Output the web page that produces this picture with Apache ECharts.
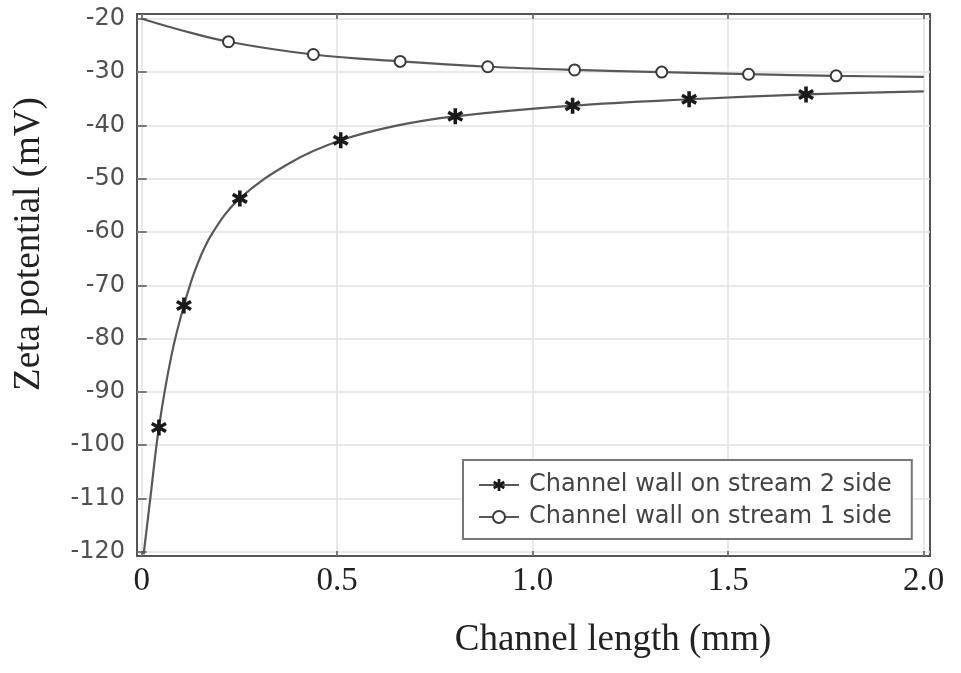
<!DOCTYPE html>
<html>
<head>
<meta charset="utf-8">
<script src="https://cdn.jsdelivr.net/npm/echarts@6/dist/echarts.min.js"></script>
<style>html,body{margin:0;padding:0;background:#fff;}#chart{width:961px;height:673px;}</style>
</head>
<body>
<div id="chart"></div>
<script>
// ---- data ----
const xTickValues = [0, 0.5, 1.0, 1.5, 2.0];
const yTickValues = [-120, -110, -100, -90, -80, -70, -60, -50, -40, -30, -20];

const seriesNames = ['Channel wall on stream 2 side', 'Channel wall on stream 1 side'];

// stream 2 side curve (points along the drawn curve); marker flag = 1 where a star is drawn
const stream2X = [0.005, 0.022, 0.044, 0.076, 0.108, 0.140, 0.180, 0.251, 0.380, 0.509, 0.655, 0.802, 1.102, 1.400, 1.699, 2.0];
const stream2Y = [-120.5, -110, -96.7, -83.2, -73.8, -66.5, -60.3, -53.7, -47.0, -42.8, -40.0, -38.3, -36.3, -35.1, -34.2, -33.6];
const stream2Marker = [0, 0, 1, 0, 1, 0, 0, 1, 0, 1, 0, 1, 1, 1, 1, 0];

// stream 1 side curve; marker flag = 1 where a circle is drawn
const stream1X = [0, 0.099, 0.222, 0.439, 0.661, 0.885, 1.107, 1.330, 1.552, 1.776, 2.0];
const stream1Y = [-20, -22.1, -24.3, -26.7, -28.0, -29.0, -29.6, -30.0, -30.4, -30.7, -30.9];
const stream1Marker = [0, 0, 1, 1, 1, 1, 1, 1, 1, 1, 0];

// ---- styling / layout ----
const STAR = 'path://M0.78 0L1.22 0L1.22 2L0.78 2Z M1.756 0.309L1.976 0.691L0.244 1.691L0.024 1.309Z M1.976 1.309L1.756 1.691L0.024 0.691L0.244 0.309Z';

function buildData(xs, ys, flags) {
  return xs.map((x, i) => flags[i] ? { value: [x, ys[i]] } : { value: [x, ys[i]], symbol: 'none' });
}

const chart = echarts.init(document.getElementById('chart'), null, { renderer: 'canvas' });

const xRange = { min: -0.012, max: 2.016 };
const yRange = { min: -120.8, max: -19.1 };

const frameColor = '#555';
const gridColor = '#e2e2e2';

const option = {
  backgroundColor: '#ffffff',
  animation: false,
  grid: {
    left: 137, top: 14, right: 31, bottom: 117,
    show: true, borderColor: frameColor, borderWidth: 2,
    outerBoundsMode: 'none'
  },
  xAxis: [{
    type: 'value', min: xRange.min, max: xRange.max, position: 'bottom',
    axisLine: { show: false },
    axisTick: { show: true, inside: true, length: 5, customValues: xTickValues, lineStyle: { color: frameColor, width: 1.5 } },
    axisLabel: {
      customValues: xTickValues, margin: 9,
      formatter: v => (v === 0 ? '0' : v.toFixed(1)),
      fontFamily: 'Liberation Serif', fontSize: 33, color: '#222'
    },
    splitLine: { show: true, lineStyle: { color: gridColor, width: 1.5 } }
  }, {
    type: 'value', min: xRange.min, max: xRange.max, position: 'top',
    axisLine: { show: false },
    axisTick: { show: true, inside: true, length: 5, customValues: xTickValues, lineStyle: { color: frameColor, width: 1.5 } },
    axisLabel: { show: false },
    splitLine: { show: false }
  }],
  yAxis: [{
    type: 'value', min: yRange.min, max: yRange.max, position: 'left',
    axisLine: { show: false },
    axisTick: { show: true, inside: true, length: 5, customValues: yTickValues, lineStyle: { color: frameColor, width: 1.5 } },
    axisLabel: {
      customValues: yTickValues, margin: 12,
      fontFamily: 'DejaVu Sans', fontSize: 24, color: '#505050'
    },
    splitLine: { show: true, lineStyle: { color: gridColor, width: 1.5 } }
  }, {
    type: 'value', min: yRange.min, max: yRange.max, position: 'right',
    axisLine: { show: false },
    axisTick: { show: true, inside: true, length: 5, customValues: yTickValues, lineStyle: { color: frameColor, width: 1.5 } },
    axisLabel: { show: false },
    splitLine: { show: false }
  }],
  legend: {
    orient: 'vertical', left: 463, top: 460,
    padding: [13, 20, 10, 15],
    itemWidth: 40, itemHeight: 15, itemGap: 8,
    backgroundColor: '#fff', borderColor: '#777', borderWidth: 2, borderRadius: 0,
    selectedMode: false,
    textStyle: { fontFamily: 'DejaVu Sans', fontSize: 24, color: '#444', padding: [0, 0, 0, 5] },
    data: seriesNames
  },
  series: [{
    name: seriesNames[0], type: 'line',
    xAxisIndex: 0, yAxisIndex: 0,
    data: buildData(stream2X, stream2Y, stream2Marker),
    smooth: 0.38,
    showSymbol: true, showAllSymbol: true,
    symbol: STAR, symbolSize: 16,
    lineStyle: { color: '#585858', width: 2.2 },
    itemStyle: { color: '#1a1a1a' },
    z: 3
  }, {
    name: seriesNames[1], type: 'line',
    xAxisIndex: 0, yAxisIndex: 0,
    data: buildData(stream1X, stream1Y, stream1Marker),
    smooth: 0.38,
    showSymbol: true, showAllSymbol: true,
    symbol: 'emptyCircle', symbolSize: 11,
    lineStyle: { color: '#585858', width: 2.2 },
    itemStyle: { color: '#3a3a3a', borderWidth: 2.4 },
    z: 3
  }],
  graphic: [{
    type: 'text', x: 613, y: 640,
    style: { text: 'Channel length (mm)', fontFamily: 'Liberation Serif', fontSize: 37, fill: '#222', align: 'center', verticalAlign: 'middle' }
  }, {
    type: 'text', x: 29, y: 244, rotation: Math.PI / 2,
    style: { text: 'Zeta potential (mV)', fontFamily: 'Liberation Serif', fontSize: 37, fill: '#222', align: 'center', verticalAlign: 'middle' }
  }]
};

chart.setOption(option);
</script>
</body>
</html>
